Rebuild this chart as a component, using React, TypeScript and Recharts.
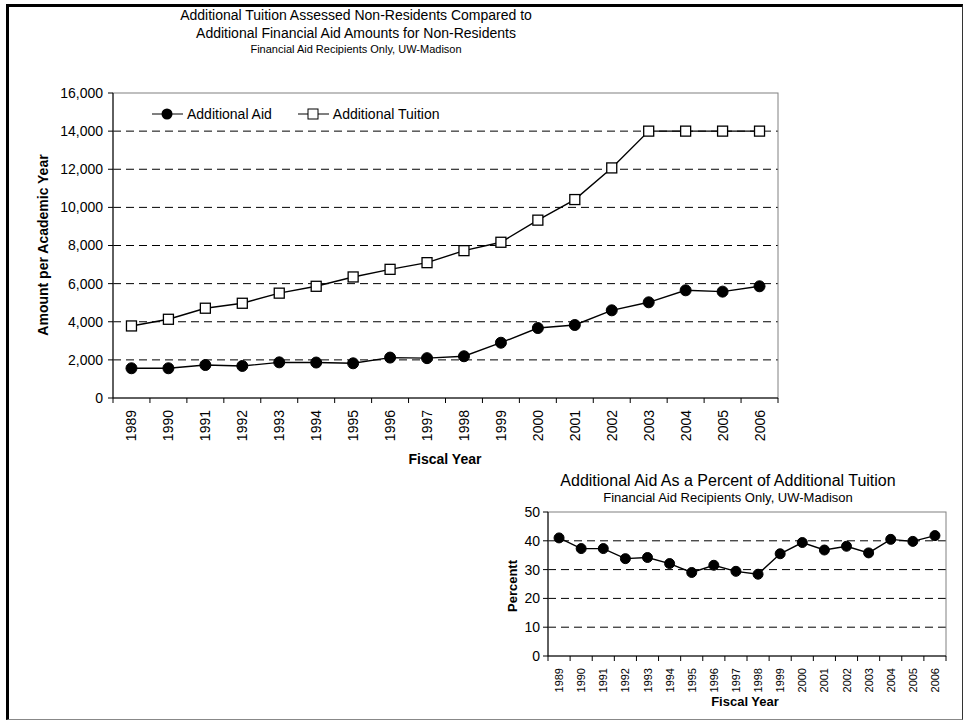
import * as R from "recharts";
import { LineChart, Line, XAxis, YAxis, CartesianGrid, Legend } from "recharts";

const years = ["1989", "1990", "1991", "1992", "1993", "1994", "1995", "1996", "1997", "1998", "1999", "2000", "2001", "2002", "2003", "2004", "2005", "2006"];
const additionalAid = [1560, 1560, 1730, 1680, 1870, 1860, 1820, 2120, 2090, 2190, 2900, 3670, 3830, 4600, 5020, 5650, 5580, 5860];
const additionalTuition = [3780, 4130, 4710, 4970, 5500, 5860, 6350, 6750, 7100, 7730, 8170, 9330, 10410, 12070, 14000, 14000, 14000, 14000];
const aidPercent = [41.0, 37.3, 37.3, 33.8, 34.2, 32.1, 29.0, 31.5, 29.4, 28.4, 35.5, 39.4, 36.8, 38.1, 35.8, 40.5, 39.8, 41.8];
const amountTicks = [0, 2000, 4000, 6000, 8000, 10000, 12000, 14000, 16000];
const percentTicks = [0, 10, 20, 30, 40, 50];

const mainData = years.map((y, i) => ({ year: y, aid: additionalAid[i], tuition: additionalTuition[i] }));
const pctData = years.map((y, i) => ({ year: y, pct: aidPercent[i] }));

const FONT = "Arial, 'Liberation Sans', Helvetica, sans-serif";
const usePlotArea: any = (R as any).usePlotArea;

// gray border round the plot area (excel style)
const PlotFrame = () => {
    const area = usePlotArea ? usePlotArea() : null;
    if (!area) return null;
    return <rect x={area.x} y={area.y} width={area.width} height={area.height} fill="none" stroke="#808080" />;
};

// year labels rotated, plus tick marks between categories
const YearTick = (props: any) => {
    const { x, y, payload, index, fontSize, half } = props;
    const h = payload && payload.offset ? payload.offset : half;
    return (
        <g>
            <line x1={x - h} x2={x - h} y1={y - 8} y2={y - 3} stroke="#000" />
            {index === years.length - 1 && (
                <line x1={x + h} x2={x + h} y1={y - 8} y2={y - 3} stroke="#000" />
            )}
            <text
                transform={`translate(${x},${y + 4}) rotate(-90)`}
                textAnchor="end"
                dominantBaseline="central"
                fontSize={fontSize}
                fill="#000"
                fontFamily={FONT}
            >
                {payload.value}
            </text>
        </g>
    );
};

const Dot = (props: any) => {
    const { cx, cy, r } = props;
    if (cx == null || cy == null) return null;
    return <circle cx={cx} cy={cy} r={r} fill="#000" stroke="#000" />;
};

const Square = (props: any) => {
    const { cx, cy } = props;
    if (cx == null || cy == null) return null;
    return <rect x={cx - 5} y={cy - 5} width={10} height={10} fill="#fff" stroke="#000" strokeWidth={1.3} />;
};

const LegendBox = () => (
    <div style={{ display: "flex", alignItems: "center", fontFamily: FONT, fontSize: 14, color: "#000", whiteSpace: "nowrap" }}>
        <svg width={33} height={14}>
            <line x1={1} x2={32} y1={7} y2={7} stroke="#000" />
            <circle cx={16} cy={7} r={5.5} fill="#000" />
        </svg>
        <span style={{ marginLeft: 3, marginRight: 25 }}>Additional Aid</span>
        <svg width={33} height={14}>
            <line x1={1} x2={32} y1={7} y2={7} stroke="#000" />
            <rect x={11} y={2} width={10} height={10} fill="#fff" stroke="#000" />
        </svg>
        <span style={{ marginLeft: 3 }}>Additional Tuition</span>
    </div>
);

const abs = (left: number, top: number): any => ({ position: "absolute", left, top });

export default function App() {
    return (
        <div style={{ position: "absolute", left: 0, top: 0, width: 964, height: 721, fontFamily: FONT, color: "#000" }}>
            <div
                style={{
                    ...abs(6, 4),
                    width: 953,
                    height: 712,
                    borderLeft: "3px solid #000",
                    borderTop: "3px solid #000",
                    borderRight: "1px solid #333",
                    borderBottom: "1px solid #888",
                }}
            />

            {/* main chart titles */}
            <div style={{ ...abs(156, 6), width: 400, textAlign: "center", fontSize: 14, lineHeight: "18px" }}>
                Additional Tuition Assessed Non-Residents Compared to
                <br />
                Additional Financial Aid Amounts for Non-Residents
            </div>
            <div style={{ ...abs(156, 43), width: 400, textAlign: "center", fontSize: 11 }}>
                Financial Aid Recipients Only, UW-Madison
            </div>

            <div style={abs(0, 0)}>
                <LineChart
                    width={800}
                    height={480}
                    data={mainData}
                    margin={{ top: 93, right: 22, bottom: 32, left: 48 }}
                >
                    <PlotFrame />
                    <CartesianGrid vertical={false} stroke="#000" strokeDasharray="8 5" horizontalValues={amountTicks.slice(1, -1)} />
                    <XAxis
                        dataKey="year"
                        scale="band"
                        height={50}
                        tickLine={false}
                        axisLine={{ stroke: "#000" }}
                        tick={<YearTick fontSize={14} half={18.47} />}
                        interval={0}
                    />
                    <YAxis
                        domain={[0, 16000]}
                        ticks={amountTicks}
                        width={65}
                        tickSize={5}
                        tickMargin={5}
                        tickFormatter={(v: number) => v.toLocaleString("en-US")}
                        tick={{ fontSize: 14, fill: "#000", fontFamily: FONT }}
                        axisLine={{ stroke: "#000" }}
                        tickLine={{ stroke: "#000" }}
                    />
                    <Legend
                        verticalAlign="middle"
                        align="center"
                        content={<LegendBox />}
                        wrapperStyle={{ top: 106, left: 151, width: "auto" }}
                    />
                    <Line
                        dataKey="aid"
                        stroke="#000"
                        strokeWidth={1.4}
                        dot={<Dot r={5.5} />}
                        isAnimationActive={false}
                    />
                    <Line
                        dataKey="tuition"
                        stroke="#000"
                        strokeWidth={1.4}
                        dot={<Square />}
                        isAnimationActive={false}
                    />
                </LineChart>
            </div>

            <div style={{ ...abs(43, 245), transform: "translate(-50%, -50%) rotate(-90deg)", fontSize: 14, fontWeight: "bold", whiteSpace: "nowrap" }}>
                Amount per Academic Year
            </div>
            <div style={{ ...abs(345, 451), width: 200, textAlign: "center", fontSize: 14, fontWeight: "bold" }}>
                Fiscal Year
            </div>

            {/* percent chart */}
            <div style={{ ...abs(528, 472), width: 400, textAlign: "center", fontSize: 16 }}>
                Additional Aid As a Percent of Additional Tuition
            </div>
            <div style={{ ...abs(528, 490), width: 400, textAlign: "center", fontSize: 13 }}>
                Financial Aid Recipients Only, UW-Madison
            </div>

            <div style={abs(470, 500)}>
                <LineChart
                    width={490}
                    height={215}
                    data={pctData}
                    margin={{ top: 12, right: 14, bottom: 9, left: 38 }}
                >
                    <PlotFrame />
                    <CartesianGrid vertical={false} stroke="#000" strokeDasharray="8 5" horizontalValues={percentTicks.slice(1, -1)} />
                    <XAxis
                        dataKey="year"
                        scale="band"
                        height={50}
                        tickLine={false}
                        axisLine={{ stroke: "#000" }}
                        tick={<YearTick fontSize={11} half={11.06} />}
                        interval={0}
                    />
                    <YAxis
                        domain={[0, 50]}
                        ticks={percentTicks}
                        width={40}
                        tickSize={5}
                        tickMargin={3}
                        tick={{ fontSize: 14, fill: "#000", fontFamily: FONT }}
                        axisLine={{ stroke: "#000" }}
                        tickLine={{ stroke: "#000" }}
                    />
                    <Line
                        dataKey="pct"
                        stroke="#000"
                        strokeWidth={1.4}
                        dot={<Dot r={5} />}
                        isAnimationActive={false}
                    />
                </LineChart>
            </div>

            <div style={{ ...abs(512, 586), transform: "translate(-50%, -50%) rotate(-90deg)", fontSize: 13, fontWeight: "bold", whiteSpace: "nowrap" }}>
                Percentt
            </div>
            <div style={{ ...abs(645, 694), width: 200, textAlign: "center", fontSize: 13, fontWeight: "bold" }}>
                Fiscal Year
            </div>
        </div>
    );
}
